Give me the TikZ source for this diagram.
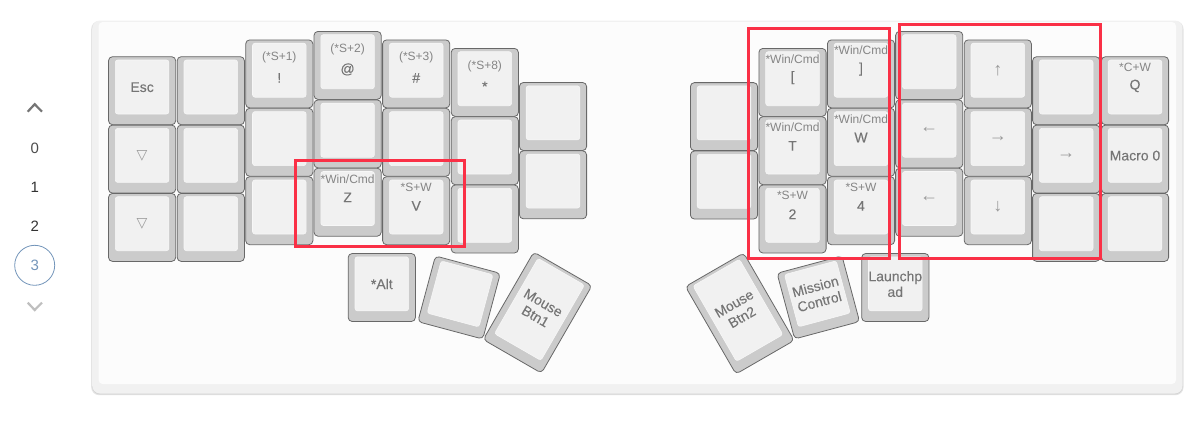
\documentclass[tikz,border=0pt]{standalone}
\usepackage{fontspec}
\setmainfont{Liberation Sans}
\newfontfamily\keyfont[FakeBold=0.12]{Liberation Sans}
\newfontfamily\symfont{DejaVu Sans}
\definecolor{panelout}{HTML}{F1F1F1}
\definecolor{panelin}{HTML}{FCFCFC}
\definecolor{shadeA}{HTML}{E4E4E4}
\definecolor{shadeB}{HTML}{D2D2D2}
\definecolor{keyedge}{HTML}{686868}
\definecolor{keyside}{HTML}{CBCBCB}
\definecolor{keytop}{HTML}{F1F1F1}
\definecolor{keyrim}{HTML}{F7F7F7}
\definecolor{labelc}{HTML}{757575}
\definecolor{subc}{HTML}{858585}
\definecolor{symc}{HTML}{9A9A9A}
\definecolor{markred}{HTML}{FA3046}
\definecolor{layerblue}{HTML}{7395BA}
\tikzset{
  keybody/.style={draw=keyedge,fill=keyside,line width=0.8pt,rounded corners=4pt,inner sep=0pt,minimum width=67.2pt},
  keyface/.style={draw=keyrim,fill=keytop,line width=0.6pt,rounded corners=2.5pt,inner sep=0pt,minimum width=53.6pt},
  mainlab/.style={text=labelc,font=\keyfont\fontsize{14}{15.7}\selectfont,align=center,inner sep=0pt},
  sublab/.style={text=subc,font=\fontsize{12}{14}\selectfont,inner sep=0pt},
  symlab/.style={text=symc,font=\fontsize{18}{20}\selectfont,inner sep=0pt},
  trilab/.style={text=symc,font=\symfont\fontsize{14}{16}\selectfont,inner sep=0pt},
  markbox/.style={draw=markred,line width=3pt},
  layernum/.style={font=\fontsize{15}{18}\selectfont,inner sep=0pt},
  chev/.style={line width=2.2pt}
}
% #1 name, #2 centre x, #3 top y, #4 label code
\newcommand\K[4]{%
  \begin{scope}[shift={(#2,#3+34)}]
    \node[keybody,minimum height=68pt] (#1) at (0,0) {};
    \node[keyface,minimum height=54pt] (#1f) at (0,-3.7) {};
    \def\kn{#1}#4%
  \end{scope}}
% #1 name, #2 centre x, #3 centre y, #4 rotation, #5 height, #6 label
\newcommand\R[6]{%
  \begin{scope}[shift={(#2,#3)},rotate=#4,transform shape]
    \node[keybody,minimum height=#5pt] (#1) at (0,0) {};
    \node[keyface,minimum height=#5pt-14pt] (#1f) at (0,-3.7) {};
    \node[mainlab] (#1m) at (0,-3.5) {#6};
  \end{scope}}
\newcommand\Main[1]{\node[mainlab] (\kn m) at (0,-3.5) {#1};}
\newcommand\Sym[1]{\node[symlab] (\kn m) at (0,-3.5) {#1};}
\newcommand\Tri{\node[trilab] (\kn m) at (0,-3.5) {▽};}
\newcommand\Two[2]{\node[sublab] (\kn s) at (0,-23.2) {#1};\node[mainlab] (\kn m) at (0,-4.8) {#2};}
\newcommand\Par[2]{\node[sublab] (\kn s) at (0,-16.4) {#1};\node[mainlab] (\kn m) at (0,4) {#2};}
\begin{document}
\begin{tikzpicture}[x=1pt,y=-1pt]
\useasboundingbox (0,0) rectangle (1200,426);
\fill[white] (0,0) rectangle (1200,426);
% panel
\fill[shadeA,rounded corners=8pt] (91.2,21) rectangle (1183.5,395.2);
\fill[shadeB,rounded corners=8pt] (92,22) rectangle (1182.8,394.4);
\fill[panelout,rounded corners=8pt] (92.2,20.5) rectangle (1182.6,393.6);
\fill[panelin,rounded corners=4pt] (98.6,22) rectangle (1176,384);
% layer selector
\coordinate (upa) at (27.7,111.7);\coordinate (upb) at (34.7,104.2);\coordinate (upc) at (42,111.7);
\draw[chev,draw=labelc] (upa) -- (upb) -- (upc);
\node[layernum,text=black!70] (lay0) at (34.7,148) {0};
\node[layernum,text=black!80] (lay1) at (34.7,187) {1};
\node[layernum,text=black!80] (lay2) at (34.7,226) {2};
\node[layernum,text=layerblue,circle,draw=layerblue,line width=0.8pt,minimum size=40pt] (lay3) at (34.7,265.3) {3};
\coordinate (dna) at (27.7,302.6);\coordinate (dnb) at (34.7,310);\coordinate (dnc) at (42,302.6);
\draw[chev,draw=black!25] (dna) -- (dnb) -- (dnc);
% left hand
\K{la}{142.1}{56.7}{\Main{Esc}}
\K{lb}{142.1}{125.1}{\Tri}
\K{lc}{142.1}{193.4}{\Tri}
\K{ld}{210.8}{56.7}{}
\K{le}{210.8}{125.1}{}
\K{lf}{210.8}{193.4}{}
\K{lg}{279.3}{39.9}{\Par{(*S+1)}{!}}
\K{lh}{279.3}{108.3}{}
\K{li}{279.3}{176.7}{}
\K{lj}{347.6}{31.4}{\Par{(*S+2)}{@}}
\K{lk}{347.6}{99.9}{}
\K{ll}{347.6}{168.2}{\Two{*Win/Cmd}{Z}}
\K{lm}{416.2}{39.9}{\Par{(*S+3)}{\#}}
\K{ln}{416.2}{108.3}{}
\K{lo}{416.2}{176.7}{\Two{*S+W}{V}}
\K{lp}{484.8}{48.4}{\Par{(*S+8)}{*}}
\K{lq}{484.8}{116.7}{}
\K{lr}{484.8}{185}{}
\K{ls}{553}{82.5}{}
\K{lt}{553}{150.8}{}
\K{lu}{381.8}{253.5}{\Main{*Alt}}
\R{lv}{459.1}{297.5}{-15}{68}{}
\R{lw}{537.6}{312.6}{-30}{101}{Mouse\\Btn1}
% right hand
\K{ra}{724}{82.6}{}
\K{rb}{724}{151}{}
\K{rc}{792.5}{48.4}{\Two{*Win/Cmd}{[}}
\K{rd}{792.5}{116.7}{\Two{*Win/Cmd}{T}}
\K{re}{792.5}{185}{\Two{*S+W}{2}}
\K{rf}{861}{39.9}{\Two{*Win/Cmd}{]}}
\K{rg}{861}{108.3}{\Two{*Win/Cmd}{W}}
\K{rh}{861}{176.7}{\Two{*S+W}{4}}
\K{ri}{929.2}{31.4}{}
\K{rj}{929.2}{99.9}{\Sym{←}}
\K{rk}{929.2}{168.2}{\Sym{←}}
\K{rl}{997.8}{39.9}{\Sym{↑}}
\K{rm}{997.8}{108.3}{\Sym{→}}
\K{rn}{997.8}{176.7}{\Sym{↓}}
\K{ro}{1066.2}{56.7}{}
\K{rp}{1066.2}{125.1}{\Sym{→}}
\K{rq}{1066.2}{193.4}{}
\K{rr}{1135}{56.7}{\Two{*C+W}{Q}}
\K{rs}{1135}{125.1}{\Main{Macro 0}}
\K{rt}{1135}{193.4}{}
\K{ru}{895.3}{253.5}{\Main{Launchp\\ad}}
\R{rv}{818.3}{297.4}{15}{68}{Mission\\Control}
\R{rw}{739.8}{313.5}{30}{101}{Mouse\\Btn2}
% highlight frames
\node[markbox,inner sep=0pt,minimum width=168.5pt,minimum height=85.7pt] (boxa) at (379.8,203.8) {};
\node[markbox,inner sep=0pt,minimum width=140.7pt,minimum height=230pt] (boxb) at (818.7,143.3) {};
\node[markbox,inner sep=0pt,minimum width=200.7pt,minimum height=234pt] (boxc) at (1000.3,141.7) {};
\end{tikzpicture}
\end{document}
